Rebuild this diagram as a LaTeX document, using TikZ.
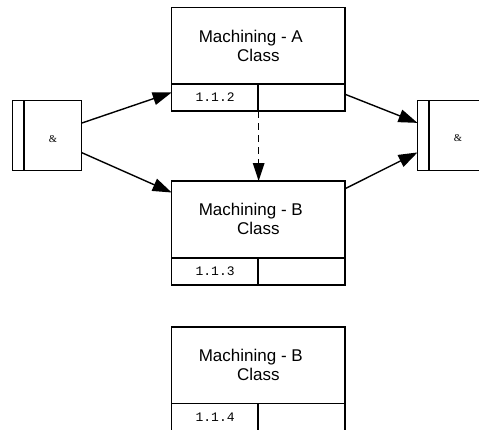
\documentclass[tikz,border=0pt]{standalone}
\usepackage{fontspec}
\setmainfont{Liberation Sans}
\newfontfamily\idfont{Liberation Mono}
\newfontfamily\andfont{Liberation Serif}
\usetikzlibrary{positioning, arrows.meta, calc}
\tikzset{
x=1pt, y=-1pt, % pixel-like coordinates, y grows downwards
every node/.style={inner sep=0pt, outer sep=0pt},
classbox/.style={draw, line width=1.5pt, minimum width=173.3pt, minimum height=103.7pt}, % the process box
idcell/.style={draw, line width=1.5pt, minimum width=87pt, minimum height=27pt, font=\idfont\fontsize{13}{13}\selectfont},
classtitle/.style={align=center, font=\fontsize{17}{19}\selectfont},
andbox/.style={draw, line width=1.5pt, minimum width=69.4pt, minimum height=70pt}, % junction box
andbar/.style={draw, line width=1.5pt, minimum width=11.7pt, minimum height=70pt},
andsign/.style={font=\andfont\fontsize{10.5}{10.5}\selectfont},
flow/.style={-{Triangle[length=19pt,width=13pt]}, line width=1.4pt},
dashflow/.style={-{Triangle[length=18pt,width=11.5pt]}, line width=1.4pt, dash pattern=on 7pt off 5pt},
}
\begin{document}
\begin{tikzpicture}
      \clip (0,0) rectangle (479,429);
      \node[classbox] (machA) at (258.3,59.2) {};
      \node[classbox, below=70pt of machA] (machB) {};
      \node[classbox, below=42pt of machB] (machC) {};
      \node[idcell, anchor=south west] (idA) at (machA.south west) {1.1.2};
      \node[idcell, anchor=south east] (freeA) at (machA.south east) {};
      \node[idcell, anchor=south west] (idB) at (machB.south west) {1.1.3};
      \node[idcell, anchor=south east] (freeB) at (machB.south east) {};
      \node[idcell, anchor=south west] (idC) at (machC.south west) {1.1.4};
      \node[idcell, anchor=south east] (freeC) at (machC.south east) {};
      \node[classtitle] (titleA) at ($(machA.north)!0.5!(idA.north -| machA.north)$) {Machining - A\hspace*{15pt}\\Class};
      \node[classtitle] (titleB) at ($(machB.north)!0.5!(idB.north -| machB.north)$) {Machining - B\hspace*{15pt}\\Class};
      \node[classtitle] (titleC) at ($(machC.north)!0.5!(idC.north -| machC.north)$) {Machining - B\hspace*{15pt}\\Class};
      \node[andbox] (andL) at (47,135.7) {};
      \node[andbar, anchor=north west] (andLbar) at (andL.north west) {};
      \node[andsign] (andLsign) at ($(andLbar.east)!0.5!(andL.east)+(0,3)$) {\&};
      \node[andbox] (andR) at (452.2,135.5) {};
      \node[andbar, anchor=north west] (andRbar) at (andR.north west) {};
      \node[andsign] (andRsign) at ($(andRbar.east)!0.5!(andR.east)+(0,3)$) {\&};
      \draw[flow] (andL.20) -- (machA.201);
      \draw[flow] (andL.-26) -- (machB.155);
      \draw[flow] (machA.-22) -- (andR.160);
      \draw[flow] (machB.27) -- (andR.206);
      \draw[dashflow] (idA.south east) -- (idA.south east |- machB.north);
\end{tikzpicture}
\end{document}
